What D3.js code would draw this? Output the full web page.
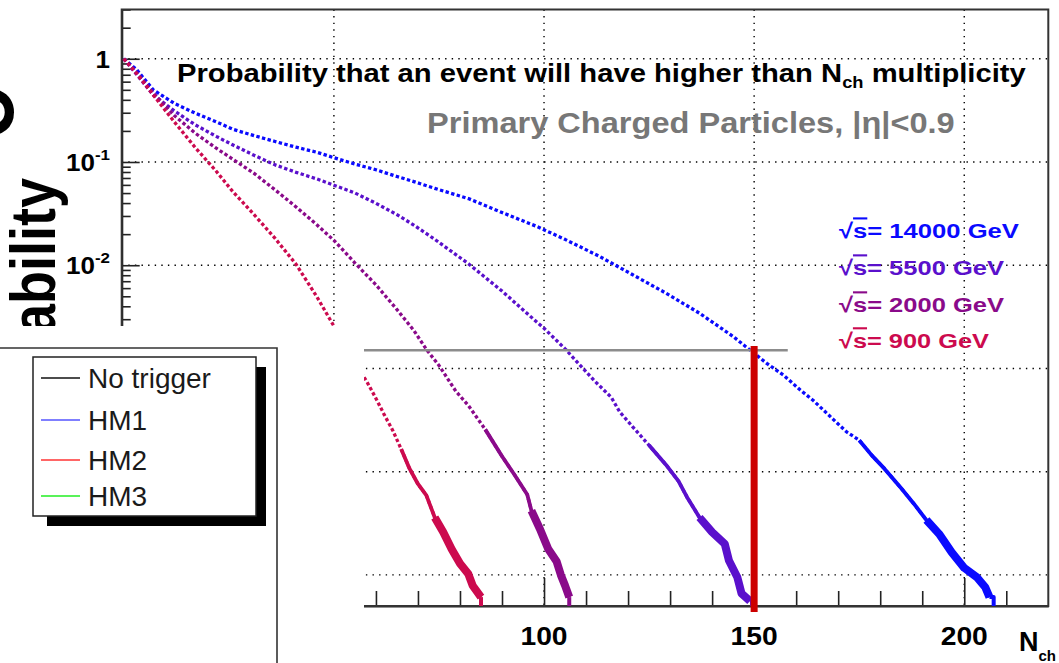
<!DOCTYPE html>
<html><head><meta charset="utf-8">
<script src="https://cdn.jsdelivr.net/npm/d3@7"></script>
<style>
body{margin:0;background:#fff}
svg{display:block}
text{font-family:"Liberation Sans",Arial,Helvetica,sans-serif}
</style>
</head><body>
<svg id="c" width="1059" height="663"></svg>
<script>
// ---------------- data ----------------
const n14000 = [0,3,7,12,17,22,26,31,36,41,46,50,55,60,65,69,74,82,90,98,105,113,121,129,137,145,149,153,157,161,164,169,172,175,178,181,185,188,191,194,197,200,203,205,206];
const p14000 = [1,0.79,0.50,0.37,0.297,0.245,0.207,0.18,0.158,0.139,0.124,0.110,0.0955,0.0841,0.0724,0.0646,0.0555,0.0442,0.0324,0.024,0.0178,0.0123,0.00813,0.00537,0.00343,0.00204,0.00151,0.00112,0.00086,0.000617,0.000493,0.000316,0.000243,0.000202,0.000144,0.000107,6.9e-5,4.9e-5,3.4e-5,2.5e-5,1.66e-5,1.17e-5,9.5e-6,7.6e-6,6.1e-6];
const n5500 = [0,3,7,12,17,22,26,31,36,41,46,50,55,60,65,69,74,82,90,98,100,105,112,116,118,121,125,129,132,134,137,140,143,144,146,147,149];
const p5500 = [1,0.71,0.447,0.313,0.229,0.177,0.146,0.116,0.0938,0.0794,0.0684,0.0596,0.0501,0.0398,0.0309,0.0245,0.0178,0.01035,0.00562,0.00288,0.00245,0.00155,0.000759,0.000525,0.00038,0.000275,0.00018,0.000117,8.1e-5,5.7e-5,3.6e-5,2.6e-5,2.0e-5,1.38e-5,9.5e-6,6.6e-6,5.6e-6];
const n2000 = [0,3,7,12,17,22,26,31,36,41,46,50,55,60,65,69,72,75,79,82,86,90,93,96,97,99,101,103,104,105,106];
const p2000 = [1,0.74,0.468,0.282,0.19,0.136,0.106,0.0776,0.0537,0.0367,0.0245,0.0174,0.0105,0.00646,0.00372,0.00234,0.00153,0.00107,0.000603,0.000437,0.000257,0.000141,9.3e-5,6.0e-5,4.2e-5,2.8e-5,1.78e-5,1.35e-5,1.0e-5,7.9e-6,6.1e-6];
const n900 = [0,3,7,12,17,22,26,31,36,41,46,50,54,58,60,62,64,66,68,70,72,74,76,78,80,82,83,85];
const p900 = [1,0.72,0.447,0.245,0.138,0.0813,0.0513,0.0309,0.0182,0.0102,0.0049,0.00257,0.00135,0.000724,0.000513,0.000355,0.000251,0.000166,0.000107,7.6e-5,5.9e-5,3.6e-5,2.6e-5,1.78e-5,1.29e-5,1.02e-5,7.9e-6,6.1e-6];
const tailEnd = [207,149.5,106,85];           // last N of each curve (drops to 0)
const energies = ["14000","5500","2000","900"];
const energyColors = ["#0a0aff","#5a10cc","#8a0a8a","#cc0a4e"];

const xTicks = [10,20,30,40,50,60,70,80,90,100,110,120,130,140,150,160,170,180,190,200,210];
const xMajor = [50,100,150,200];
const xTickLabels = [100,150,200];
const yDecades = [1,0.1,0.01,0.001,0.0001,0.00001];
const yTickLabels = ["1","10|-1","10|-2"];
const gridX = [50,100,150,200];

const cutLevel = 1.5e-3, cutToN = 158;         // grey horizontal line
const triggerN = 150, triggerTop = 1.65e-3;    // red vertical bar

const legendLabels = ["No trigger","HM1","HM2","HM3"];
const legendColors = ["#111111","#5555ff","#ff3333","#22ee22"];

const titleMain = "Probability that an event will have higher than N";
const titleSub = "ch";
const titleEnd = " multiplicity";
const subtitle = "Primary Charged Particles, |\u03b7|<0.9";

// ---------------- drawing ----------------
const svg = d3.select("#c");
const x = d3.scaleLinear().domain([-0.5,220]).range([121.7,1048.3]);
const y = d3.scaleLog().domain([5e-6,3]).range([606,9.5]);
const [X0,X1] = x.range(), [Y0,Y1] = [y.range()[1], y.range()[0]];

function fit(sel, x0, target){
  const w = sel.node().getBBox().width;
  sel.attr("transform", `translate(${x0},0) scale(${target/w},1) translate(${-x0},0)`);
}

// grid
const grid = svg.append("g").attr("stroke","#000").attr("stroke-width",1.4).attr("stroke-dasharray","1.4 5.2");
grid.selectAll("line.gx").data(gridX).join("line")
  .attr("x1",d=>x(d)).attr("x2",d=>x(d)).attr("y1",Y0).attr("y2",Y1);
grid.selectAll("line.gy").data(yDecades).join("line")
  .attr("x1",X0).attr("x2",X1).attr("y1",d=>y(d)).attr("y2",d=>y(d));

// x axis
const xAxis = d3.axisBottom(x).tickValues(xTicks).tickSize(-15).tickSizeOuter(0).tickFormat("");
const gx = svg.append("g").attr("transform",`translate(0,${Y1})`).call(xAxis);
gx.select(".domain").attr("stroke","#222").attr("stroke-width",2.2);
gx.selectAll(".tick line").attr("stroke","#222").attr("stroke-width",1.6)
  .attr("y2", d=> xMajor.includes(d) ? -28 : -15);
xTickLabels.forEach(v=>{
  svg.append("text").attr("x",x(v)).attr("y",Y1+39).attr("text-anchor","middle")
    .attr("font-size",25).attr("font-weight","bold").attr("fill","#000")
    .attr("transform",`translate(${x(v)},0) scale(1.13,1) translate(${-x(v)},0)`).text(v);
});

// y axis
const yTicks = [];
[1e-6,1e-5,1e-4,1e-3,1e-2,1e-1,1].forEach(dec=>{ for(let k=1;k<10;k++){ const v=dec*k; if(v>=5e-6 && v<=3.0001) yTicks.push(v);} });
const yAxis = d3.axisLeft(y).tickValues(yTicks).tickSize(-9).tickSizeOuter(0).tickFormat("");
const gy = svg.append("g").attr("transform",`translate(${X0},0)`).call(yAxis);
gy.select(".domain").attr("stroke","#222").attr("stroke-width",2.2);
gy.selectAll(".tick line").attr("stroke","#222").attr("stroke-width",1.6)
  .attr("x2", d=> yDecades.some(v=>Math.abs(v-d)/v<1e-6) ? 18 : 9);
yTickLabels.forEach((lab,i)=>{
  const v = yDecades[i];
  const parts = lab.split("|");
  const t = svg.append("text").attr("x",110).attr("y",y(v)+9).attr("text-anchor","end")
    .attr("font-size",23).attr("font-weight","bold").attr("fill","#000");
  t.append("tspan").text(parts[0]);
  if(parts[1]) t.append("tspan").attr("font-size",15).attr("dy",-11).text(parts[1]);
  t.attr("transform",`translate(110,0) scale(1.13,1) translate(-110,0)`);
});

// frame
svg.append("rect").attr("x",X0).attr("y",Y0).attr("width",X1-X0).attr("height",Y1-Y0)
  .attr("fill","none").attr("stroke","#333").attr("stroke-width",2);

// curves
const series = [[n14000,p14000],[n5500,p5500],[n2000,p2000],[n900,p900]];
const line = d3.line().x(d=>x(d[0])).y(d=>y(d[1]));
const curves = svg.append("g").attr("stroke-linejoin","round");
series.forEach(([ns,ps],i)=>{
  const pts = ns.map((n,j)=>[n,ps[j]]);
  const col = energyColors[i];
  curves.append("path").attr("d",line(pts)).attr("fill","none").attr("stroke",col)
    .attr("stroke-width",3.3).attr("stroke-dasharray","3.4 2.4");
  const idx1 = pts.findIndex(d=>d[1]<=1.5e-4);
  curves.append("path").attr("d",line(pts.slice(Math.max(0,idx1-1)))).attr("fill","none").attr("stroke",col).attr("stroke-width",3.8);
  const idx2 = pts.findIndex(d=>d[1]<=3e-5);
  curves.append("path").attr("d",line(pts.slice(Math.max(0,idx2-1)))).attr("fill","none").attr("stroke",col).attr("stroke-width",8);
  const last = pts[pts.length-1];
  curves.append("path").attr("d",line([[last[0],last[1]],[tailEnd[i],last[1]],[tailEnd[i],y.domain()[0]]]))
    .attr("fill","none").attr("stroke",col).attr("stroke-width",4);
});

// grey cut line and red trigger bar
svg.append("line").attr("x1",x(0)).attr("x2",x(cutToN)).attr("y1",y(cutLevel)).attr("y2",y(cutLevel))
  .attr("stroke","#8c8c8c").attr("stroke-width",2.6);
svg.append("line").attr("x1",x(triggerN)).attr("x2",x(triggerN)).attr("y1",y(triggerTop)).attr("y2",Y1+6)
  .attr("stroke","#cc0000").attr("stroke-width",7);

// titles
const t1 = svg.append("text").attr("x",177).attr("y",82).attr("font-size",25.5).attr("font-weight","bold").attr("fill","#000");
t1.append("tspan").text(titleMain);
t1.append("tspan").attr("font-size",16).attr("dy",6).text(titleSub);
t1.append("tspan").attr("dy",-6).text(titleEnd);
fit(t1,177,850);
const t2 = svg.append("text").attr("x",427).attr("y",133).attr("font-size",30).attr("font-weight","bold").attr("fill","#777").text(subtitle);
fit(t2,427,528);

// energy labels
const eBase = [238,275,312,348], eWidth=[180,165,165,150];
energies.forEach((e,i)=>{
  const t = svg.append("text").attr("x",839).attr("y",eBase[i]).attr("font-size",21).attr("font-weight","bold").attr("fill",energyColors[i]);
  t.append("tspan").text("\u221a");
  t.append("tspan").attr("text-decoration","overline").text("s");
  t.append("tspan").text("= "+e+" GeV");
  fit(t,839,eWidth[i]);
});

// Nch axis title
const nt = svg.append("text").attr("x",1019).attr("y",651).attr("font-size",27).attr("font-weight","bold").attr("fill","#000");
nt.append("tspan").text("N");
nt.append("tspan").attr("font-size",15).attr("dy",10).text("ch");

// y title (partly visible, cut by the page edge and the cover)
svg.append("text").attr("transform","translate(55,178) scale(1.17,1) rotate(-90)")
  .attr("text-anchor","end").attr("font-size",54).attr("font-weight","bold").attr("fill","#000").text("Probability");
svg.append("text").attr("transform","translate(13,112) scale(1.17,1) rotate(-90)")
  .attr("text-anchor","middle").attr("font-size",70).attr("font-weight","bold").attr("fill","#000").text("O");

// white cover + legend panel
svg.append("rect").attr("x",0).attr("y",326).attr("width",364).attr("height",337).attr("fill","#fff");
svg.append("path").attr("d","M0,348H277V663").attr("fill","none").attr("stroke","#333").attr("stroke-width",1.6);
svg.append("rect").attr("x",47).attr("y",367).attr("width",219).attr("height",159).attr("fill","#000");
svg.append("rect").attr("x",33).attr("y",357).attr("width",223).attr("height",159).attr("fill","#fff").attr("stroke","#222").attr("stroke-width",1.5);
const lgY = [378,420,460,496];
legendLabels.forEach((l,i)=>{
  svg.append("line").attr("x1",41).attr("x2",80).attr("y1",lgY[i]).attr("y2",lgY[i]).attr("stroke",legendColors[i]).attr("stroke-width",1.6);
  svg.append("text").attr("x",88).attr("y",lgY[i]+10).attr("font-size",28).attr("fill","#1a1a1a").text(l);
});
</script>
</body></html>
